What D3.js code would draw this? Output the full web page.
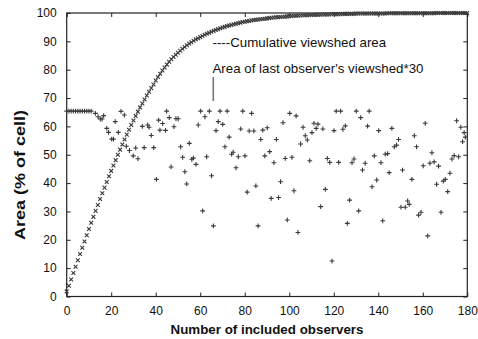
<!DOCTYPE html>
<html><head><meta charset="utf-8">
<script src="https://cdn.jsdelivr.net/npm/d3@7"></script>
<style>body{margin:0;background:#fff}svg{display:block}</style>
</head><body>
<svg id="c" width="478" height="339"></svg>
<script>
const xTicks=[0,20,40,60,80,100,120,140,160,180];
const yTicks=[0,10,20,30,40,50,60,70,80,90,100];
const xTitle="Number of included observers";
const yTitle="Area (% of cell)";
const label1="----Cumulative viewshed area";
const label2="Area of last observer's viewshed*30";
// cumulative viewshed area, observers 0..180
const cumArea=[
1.8,3.8,6.0,8.3,10.5,12.8,15.0,17.2,19.4,21.6,
23.8,26.0,28.1,30.2,32.3,34.4,36.4,38.4,40.4,42.4,
44.3,46.2,48.1,50.0,51.8,53.6,55.4,57.1,58.8,60.5,
62.1,63.7,65.2,66.7,68.1,69.5,70.9,72.2,73.5,74.8,
76.2,77.4,78.6,79.7,80.8,81.8,82.8,83.7,84.5,85.3,
86.0,86.7,87.4,88.0,88.6,89.2,89.7,90.2,90.7,91.1,
91.5,91.9,92.3,92.7,93.0,93.4,93.7,94.0,94.3,94.6,
94.9,95.1,95.4,95.6,95.8,96.0,96.2,96.4,96.6,96.8,
96.9,97.1,97.2,97.4,97.5,97.6,97.7,97.8,97.9,98.0,
98.1,98.2,98.3,98.4,98.5,98.5,98.6,98.7,98.7,98.8,
98.9,98.9,99.0,99.0,99.1,99.1,99.2,99.2,99.2,99.3,
99.3,99.3,99.4,99.4,99.4,99.5,99.5,99.5,99.5,99.6,
99.6,99.6,99.6,99.6,99.7,99.7,99.7,99.7,99.7,99.7,
99.8,99.8,99.8,99.8,99.8,99.8,99.8,99.8,99.8,99.8,
99.8,99.8,99.8,99.8,99.9,99.9,99.9,99.9,99.9,99.9,
99.9,99.9,99.9,99.9,99.9,99.9,99.9,99.9,99.9,99.9,
99.9,99.9,99.9,99.9,99.9,99.9,100,100,100,100,
100,100,100,100,100,100,100,100,100,100,100];
// last observer's viewshed area * 30
const lastN=[0,1,2,3,4,5,6,7,8,9,
10,11,12.9,14.1,15.1,15.9,16.6,18.0,18.8,20.2,
21.0,21.8,23.2,24.4,25.9,26.8,28.2,29.9,31.0,32.0,
34.0,34.8,36.4,37.0,38.0,39.1,40.3,41.3,41.9,43.1,
44.4,44.9,46.1,46.9,48.2,49.1,50.1,51.2,52.1,53.1,
53.9,55.1,56.2,56.9,58.1,59.1,60.2,61.1,62.1,62.9,
64.1,65.1,65.9,67.1,68.1,68.9,70.1,71.1,72.1,73.0,
74.1,74.8,76.1,77.1,78.2,79.1,80.1,81.1,82.0,83.1,
84.1,85.0,86.0,87.2,88.1,89.0,90.1,91.2,91.9,93.1,
94.2,95.2,96.1,97.2,98.2,99.1,100.2,101.2,102.1,103.1,
103.9,105.1,106.2,107.2,108.1,109.2,110.2,111.1,112.1,112.9,
114.1,115.1,116.2,117.1,118.2,119.2,120.1,121.1,122.2,123.1,
124.1,125.2,126.1,127.1,128.2,129.1,130.1,131.2,132.1,132.9,
134.1,135.2,135.9,137.2,138.2,139.3,140.2,141.2,142.0,143.1,
144.2,144.9,146.1,147.2,148.2,149.1,150.2,150.9,152.1,153.2,
153.9,155.1,156.2,157.2,158.1,159.2,160.2,161.1,162.2,163.2,
164.1,165.1,166.2,167.1,168.2,169.2,170.1,171.2,172.2,173.1,
174.1,175.2,176.1,177.1,177.9,178.6,179.1];
const lastArea=[65.4,65.4,65.4,65.4,65.4,65.4,65.4,65.4,65.4,65.4,
65.4,65.4,64.6,63.4,62.6,62.6,63.8,59.3,57.9,55.5,
55.5,61.7,57.9,65.3,64.0,53.0,51.5,49.6,52.4,48.6,
60.0,52.5,60.5,59.7,56.8,52.5,41.3,62.2,58.7,61.0,
58.6,65.4,63.1,45.7,59.9,62.7,62.7,52.8,49.1,44.0,
39.7,54.0,48.4,48.8,46.6,60.5,65.4,30.2,63.4,49.3,
65.4,42.6,24.9,58.5,61.7,65.4,60.7,52.8,65.4,56.2,
50.2,50.9,45.4,49.3,59.1,65.4,49.6,36.8,58.4,64.6,
58.4,39.0,24.9,55.4,58.7,49.6,59.5,51.1,34.6,47.2,
55.4,34.9,40.5,61.3,48.7,27.0,64.6,49.1,37.3,63.7,
22.6,53.8,59.7,56.7,55.2,47.9,57.8,61.1,59.3,60.8,
31.7,59.1,37.8,48.7,47.3,12.5,58.5,65.4,47.3,65.4,
59.0,60.2,25.8,34.0,47.2,48.5,65.4,30.2,63.1,44.6,
47.0,60.1,65.4,38.7,49.6,41.1,58.5,47.2,26.7,50.2,
50.4,43.7,59.3,52.8,53.4,55.4,31.5,44.6,31.5,33.7,
32.5,41.3,56.7,52.8,28.7,29.7,46.1,61.1,21.4,47.0,
50.7,47.5,39.6,46.0,29.7,40.7,41.3,37.0,43.5,48.5,
49.7,62.0,49.3,59.7,54.6,57.8,56.2];

const W=478,H=339;
const m={l:66.7,r:10.7,t:13,b:42.5};
const svg=d3.select("#c");
const x=d3.scaleLinear().domain([0,180]).range([m.l,W-m.r]);
const y=d3.scaleLinear().domain([0,100]).range([H-m.b,m.t]);
const ink="#222", mk="#3a3a3a";
const font="'Liberation Sans', Arial, Helvetica, sans-serif";

// axes with inward ticks
const tk=4;
const gB=svg.append("g").attr("transform",`translate(0,${y(0)})`)
  .call(d3.axisBottom(x).tickValues(xTicks).tickSizeInner(-tk).tickSizeOuter(0).tickPadding(10));
const gL=svg.append("g").attr("transform",`translate(${x(0)},0)`)
  .call(d3.axisLeft(y).tickValues(yTicks).tickSizeInner(-tk).tickSizeOuter(0).tickPadding(10));
const gT=svg.append("g").attr("transform",`translate(0,${y(100)})`)
  .call(d3.axisTop(x).tickValues(xTicks).tickSizeInner(-tk).tickSizeOuter(0).tickFormat(""));
const gR=svg.append("g").attr("transform",`translate(${x(180)},0)`)
  .call(d3.axisRight(y).tickValues(yTicks).tickSizeInner(-tk).tickSizeOuter(0).tickFormat(""));
[gB,gL,gT,gR].forEach(g=>{
  g.select(".domain").remove();
  g.selectAll(".tick line").attr("stroke",ink).attr("stroke-width",1);
  g.selectAll("text").attr("font-family",font).attr("font-size",12).attr("fill","#111");
});
svg.append("rect").attr("x",x(0)).attr("y",y(100)).attr("width",x(180)-x(0)).attr("height",y(0)-y(100))
  .attr("fill","none").attr("stroke",ink).attr("stroke-width",1.2);

// scatter "+" markers
const ps=2.4;
svg.append("g").selectAll("path").data(lastN.map((n,i)=>[n,lastArea[i]])).join("path")
  .attr("d",d=>{const cx=x(d[0]),cy=y(d[1]);return `M${cx-ps},${cy}H${cx+ps}M${cx},${cy-ps}V${cy+ps}`;})
  .attr("stroke",mk).attr("stroke-width",1.1).attr("fill","none");

// cumulative "x" markers
const xs=1.9;
svg.append("g").selectAll("path").data(cumArea.map((v,i)=>[i,v])).join("path")
  .attr("d",d=>{const cx=x(d[0]),cy=y(d[1]);return `M${cx-xs},${cy-xs}L${cx+xs},${cy+xs}M${cx-xs},${cy+xs}L${cx+xs},${cy-xs}`;})
  .attr("stroke",mk).attr("stroke-width",1.1).attr("fill","none");

// annotations
svg.append("text").attr("x",212.5).attr("y",47).attr("font-family",font).attr("font-size",13.3)
  .attr("fill","#111").text(label1);
svg.append("text").attr("x",212.5).attr("y",73).attr("font-family",font).attr("font-size",13.3)
  .attr("fill","#111").text(label2);
svg.append("line").attr("x1",213.3).attr("x2",213.3).attr("y1",77).attr("y2",101)
  .attr("stroke","#777").attr("stroke-width",1.6);

// axis titles
svg.append("text").attr("x",(x(0)+x(180))/2).attr("y",334).attr("text-anchor","middle")
  .attr("font-family",font).attr("font-weight","bold").attr("font-size",13)
  .attr("textLength",193).attr("lengthAdjust","spacingAndGlyphs").attr("fill","#111").text(xTitle);
svg.append("text").attr("transform","translate(25,175) rotate(-90)").attr("text-anchor","middle")
  .attr("font-family",font).attr("font-weight","bold").attr("font-size",14)
  .attr("textLength",130).attr("lengthAdjust","spacingAndGlyphs").attr("fill","#111").text(yTitle);
</script>
</body></html>
